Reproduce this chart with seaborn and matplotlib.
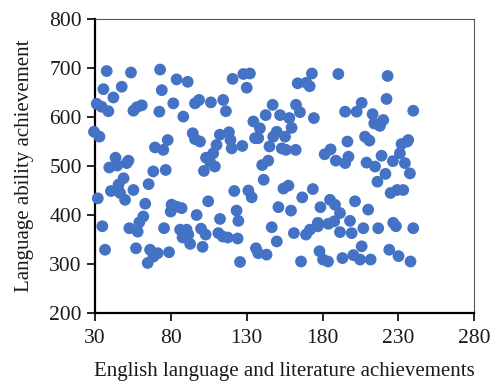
import matplotlib
matplotlib.use("Agg")
import matplotlib.pyplot as plt
import seaborn as sns
import pandas as pd

english = [
    29.3, 32.9, 31.1, 34.4, 38.8, 37.7, 35.5, 42.1, 47.6, 53.7, 55.3, 57.5, 60.8,
    31.8, 34.8, 36.6, 39.4, 43.5, 44.6, 50.9, 52.0, 40.5, 45.5, 48.8, 46.5, 49.8,
    55.3, 52.6, 58.1, 57.0, 59.2, 61.8, 63.1, 65.3, 64.7, 66.3, 68.5, 71.3, 68.4,
    69.5, 72.4, 72.9, 74.0, 75.0, 77.9, 76.6, 75.5, 78.8, 81.6, 83.8, 91.1, 88.2,
    80.5, 79.9, 83.8, 87.1, 86.1, 87.7, 90.4, 91.5, 92.7, 95.9, 98.6, 94.4, 95.9,
    99.2, 97.0, 99.9, 102.9, 100.9, 101.8, 104.6, 103.2, 106.4, 105.8,
    109.0, 107.9, 110.1, 112.3, 114.5, 116.3, 112.4, 111.3, 114.2, 117.5, 118.3,
    119.3, 120.1, 120.7, 121.8, 123.3, 124.5, 124.0, 125.6, 127.1, 127.8, 132.1,
    130.0, 131.1, 133.3, 134.4, 135.5, 137.6, 138.7,
    136.1, 137.6, 143.1, 140.2, 144.2, 141.2, 142.5, 145.0, 146.5, 147.1, 149.8,
    150.9, 147.5, 149.8, 152.0, 153.1, 155.3, 155.9, 154.2, 157.5, 158.1, 159.6,
    159.2, 161.1, 162.3, 162.5, 165.1, 163.6, 165.8, 166.6,
    169.1, 171.7, 169.3, 171.5, 173.0, 174.3, 173.6, 176.9, 178.6, 176.9, 178.0,
    180.3, 183.6, 181.4, 185.3, 184.9, 183.8, 187.7, 188.2, 188.8, 190.4, 191.5,
    191.5, 193.1, 194.9, 194.9, 197.1, 196.4, 198.1, 199.2, 200.3, 201.4,
    202.5, 205.8, 204.7, 205.8, 206.9, 208.0, 210.9, 209.0, 210.1, 211.7, 213.0,
    214.1, 217.8, 220.0, 214.6, 216.2, 216.7, 218.9, 221.5, 222.2, 222.9, 224.0,
    224.9, 226.6, 228.4, 226.4, 230.1, 229.2, 231.0, 233.2, 232.1, 234.3, 235.8,
    237.6, 238.0, 239.8, 239.8, 236.5,
]

language = [
    570, 560, 627, 621, 612, 694, 657, 640, 662, 691, 613, 620, 624,
    434, 377, 329, 497, 517, 501, 506, 511, 449, 462, 475, 445, 431,
    451, 373, 366, 332, 385, 397, 423, 463, 302, 329, 315, 322, 489,
    538, 611, 697, 655, 533, 553, 492, 373, 324, 628, 677, 672, 601,
    421, 407, 417, 414, 370, 354, 370, 360, 341, 628, 635, 567, 555,
    550, 400, 372, 360, 335, 490, 428, 517, 630, 509,
    499, 526, 543, 564, 635, 612, 392, 363, 356, 354, 569,
    553, 536, 678, 449, 409, 388, 352, 304, 541, 688, 689,
    660, 450, 436, 591, 557, 557, 577,
    332, 322, 319, 502, 511, 472, 604, 540, 375, 625, 346,
    416, 560, 570, 604, 536, 560, 533, 454, 460, 598, 578,
    409, 363, 533, 625, 610, 669, 305, 436,
    360, 370, 670, 663, 689, 598, 453, 377, 416, 384, 326,
    309, 305, 524, 534, 431, 382, 387, 421, 511, 688, 404,
    365, 312, 611, 506, 519, 550, 388, 363, 318, 428,
    611, 629, 309, 336, 373, 560, 552, 507, 411, 309, 606,
    587, 582, 594, 499, 468, 373, 521, 484, 637, 684, 329,
    445, 384, 377, 510, 316, 451, 526, 451, 545, 506, 550,
    485, 305, 613, 373, 553,
]

x_ticks = [30, 80, 130, 180, 230, 280]
y_ticks = [200, 300, 400, 500, 600, 700, 800]

df = pd.DataFrame({"english": english, "language": language})

sns.set_theme(style="white")
plt.rcParams["font.family"] = ["Liberation Serif", "DejaVu Serif"]

fig = plt.figure(figsize=(4.95, 3.83), dpi=100)
ax = fig.add_axes([0.192, 0.183, 0.766, 0.767])

sns.scatterplot(data=df, x="english", y="language", ax=ax,
                color="#4472C4", s=72, edgecolor="none", linewidth=0, alpha=1,
                clip_on=False, zorder=3)

ax.set_xlim(30, 280)
ax.set_ylim(200, 800)
ax.set_xticks(x_ticks)
ax.set_yticks(y_ticks)
ax.tick_params(axis="both", which="both", direction="out", length=5.5, width=1.2,
               color="black", labelsize=15.5, labelcolor="#1a1a1a",
               bottom=True, left=True)
ax.tick_params(axis="y", pad=4)
ax.tick_params(axis="x", pad=6)

for side in ["left", "bottom"]:
    ax.spines[side].set_color("black")
    ax.spines[side].set_linewidth(1.6)
for side in ["top", "right"]:
    ax.spines[side].set_color("#555555")
    ax.spines[side].set_linewidth(0.8)

ax.set_xlabel("English language and literature achievements", fontsize=15,
              color="#1a1a1a", labelpad=10)
ax.set_ylabel("Language ability achievement", fontsize=15, color="#1a1a1a",
              labelpad=11)

fig.savefig("out.png", dpi=100)
